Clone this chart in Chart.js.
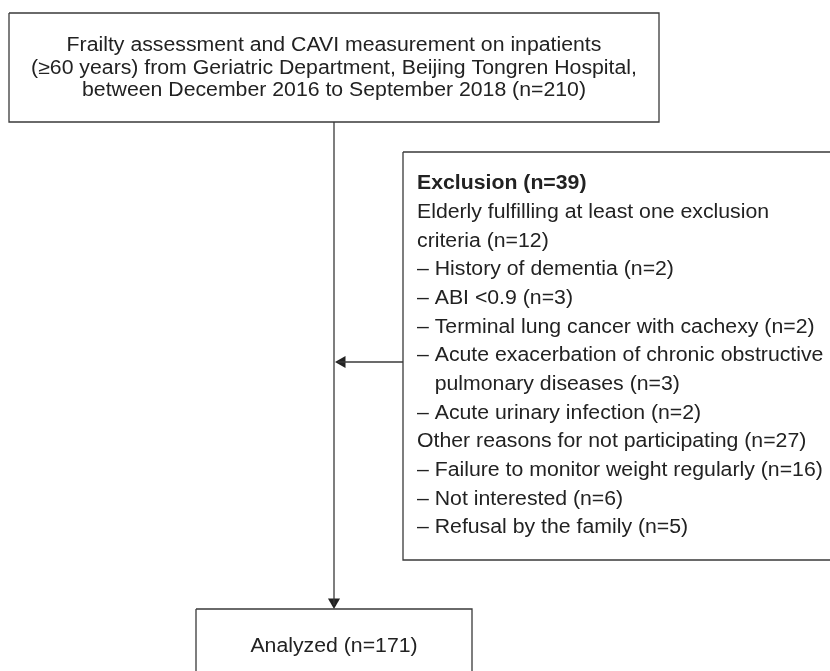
<!DOCTYPE html>
<html>
<head>
<meta charset="utf-8">
<script src="https://cdn.jsdelivr.net/npm/chart.js@4/dist/chart.umd.min.js"></script>
<style>
html,body{margin:0;padding:0;background:#fff;}
#wrap{width:830px;height:671px;position:relative;}
</style>
</head>
<body>
<div id="wrap"><canvas id="c"></canvas></div>
<script>
// ---- content (data) ----
const enrolledLines = [
  "Frailty assessment and CAVI measurement on inpatients",
  "(\u226560 years) from Geriatric Department, Beijing Tongren Hospital,",
  "between December 2016 to September 2018 (n=210)"
];
const exclusionTitle = "Exclusion (n=39)";
const exclusionLines = [
  "Elderly fulfilling at least one exclusion",
  "criteria (n=12)",
  "\u2013 History of dementia (n=2)",
  "\u2013 ABI <0.9 (n=3)",
  "\u2013 Terminal lung cancer with cachexy (n=2)",
  "\u2013 Acute exacerbation of chronic obstructive",
  "   pulmonary diseases (n=3)",
  "\u2013 Acute urinary infection (n=2)",
  "Other reasons for not participating (n=27)",
  "\u2013 Failure to monitor weight regularly (n=16)",
  "\u2013 Not interested (n=6)",
  "\u2013 Refusal by the family (n=5)"
];
const analyzedLines = ["Analyzed (n=171)"];

// ---- layout (positions in scale units) ----
const layout = {
  top:      {x0: 9,   y0: 13,  x1: 659, y1: 122},
  excl:     {x0: 403, y0: 152, x1: 834, y1: 560},
  analyzed: {x0: 196, y0: 609, x1: 472, y1: 680},
  trunkX: 334,
  branchY: 362
};
const ink = '#222222';
const lineCol = '#3a3a3a';
const fontPx = 19.5;
const stretchX = 1.09;
const textDy = 2;

function rect(b){
  return [{x:b.x0,y:b.y0},{x:b.x1,y:b.y0},{x:b.x1,y:b.y1},{x:b.x0,y:b.y1},{x:b.x0,y:b.y0}];
}
function lineDs(pts){
  return {type:'scatter', data:pts, showLine:true, borderColor:lineCol, borderWidth:1.3,
          pointRadius:0, pointHoverRadius:0, fill:false, tension:0, clip:false};
}

const datasets = [
  lineDs(rect(layout.top)),
  lineDs(rect(layout.excl)),
  lineDs(rect(layout.analyzed)),
  lineDs([{x:layout.trunkX,y:layout.top.y1},{x:layout.trunkX,y:layout.analyzed.y0-4}]),
  lineDs([{x:layout.excl.x0,y:layout.branchY},{x:layout.trunkX+4,y:layout.branchY}]),
  {type:'scatter', data:[{x:layout.trunkX,y:layout.analyzed.y0-7}], pointStyle:'triangle',
   rotation:180, pointRadius:7, backgroundColor:ink, borderColor:ink, borderWidth:0, clip:false},
  {type:'scatter', data:[{x:layout.trunkX+8,y:layout.branchY}], pointStyle:'triangle',
   rotation:270, pointRadius:7, backgroundColor:ink, borderColor:ink, borderWidth:0, clip:false}
];

function drawText(ctx, t, px, py){
  ctx.save();
  ctx.translate(px, py + textDy);
  ctx.scale(stretchX, 1);
  ctx.fillText(t, 0, 0);
  ctx.restore();
}

const textPlugin = {
  id:'flowText',
  afterDatasetsDraw(chart){
    const ctx = chart.ctx, xs = chart.scales.x, ys = chart.scales.y;
    ctx.save();
    ctx.fillStyle = ink;
    ctx.textBaseline = 'middle';
    const font = fontPx + 'px "Liberation Sans", Arial, sans-serif';
    const bold = 'bold ' + font;
    // top box
    ctx.font = font; ctx.textAlign = 'center';
    const tcx = (layout.top.x0 + layout.top.x1)/2;
    enrolledLines.forEach((t,i)=>{
      drawText(ctx, t, xs.getPixelForValue(tcx), ys.getPixelForValue(44 + i*22.5));
    });
    // exclusion box
    ctx.textAlign = 'left';
    const ex = layout.excl.x0 + 14;
    ctx.font = bold;
    drawText(ctx, exclusionTitle, xs.getPixelForValue(ex), ys.getPixelForValue(182));
    ctx.font = font;
    exclusionLines.forEach((t,i)=>{
      drawText(ctx, t, xs.getPixelForValue(ex), ys.getPixelForValue(182 + (i+1)*28.67));
    });
    // analyzed
    ctx.textAlign = 'center';
    drawText(ctx, analyzedLines[0], xs.getPixelForValue(layout.trunkX), ys.getPixelForValue(645));
    ctx.restore();
  }
};

new Chart(document.getElementById('c'), {
  type:'scatter',
  data:{datasets},
  options:{
    responsive:true, maintainAspectRatio:false, animation:false,
    layout:{padding:0, autoPadding:false},
    plugins:{legend:{display:false}, tooltip:{enabled:false}},
    events:[],
    scales:{
      x:{type:'linear', min:0, max:830, display:false},
      y:{type:'linear', min:0, max:671, reverse:true, display:false}
    }
  },
  plugins:[textPlugin]
});
</script>
</body>
</html>
